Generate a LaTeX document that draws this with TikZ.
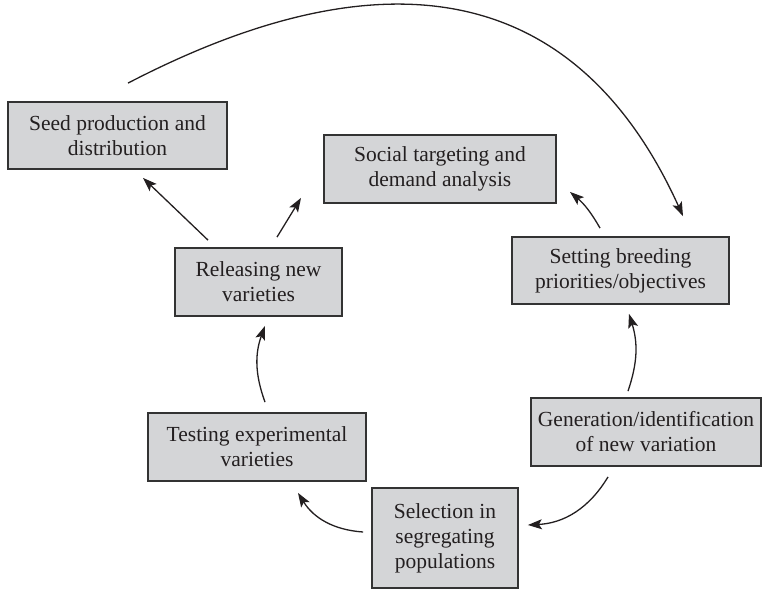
\documentclass[tikz,border=0pt]{standalone}
\usepackage{fontspec}
\setmainfont{Liberation Serif}
\usetikzlibrary{arrows.meta,calc}
\definecolor{boxfill}{HTML}{D4D5D7}
\definecolor{boxline}{HTML}{333333}
\definecolor{ink}{HTML}{231F20}
\begin{document}
\begin{tikzpicture}[x=1pt,y=-1pt,
  box/.style={draw=boxline, line width=1.8pt, fill=boxfill, align=center, inner sep=0pt,
    font=\fontsize{21.5}{25}\selectfont, text=ink},
  arr/.style={draw=ink, line width=1.3pt, -{Stealth[length=14pt,width=10pt,inset=3pt]}}]
\useasboundingbox (0,0) rectangle (763,590);
\node[box, minimum width=219pt, minimum height=67pt] (seed) at (117.5,135.5) {Seed production and\\distribution};
\node[box, minimum width=232pt, minimum height=68pt] (social) at (440,169) {Social targeting and\\demand analysis};
\node[box, minimum width=217pt, minimum height=67pt] (setting) at (620.5,270.5) {Setting breeding\\priorities/objectives};
\node[box, minimum width=167pt, minimum height=68pt] (rel) at (258.5,282) {Releasing new\\varieties};
\node[box, minimum width=230pt, minimum height=68pt] (gen) at (646,432) {Generation/identification\\of new variation};
\node[box, minimum width=218pt, minimum height=68pt] (test) at (257,447) {Testing experimental\\varieties};
\node[box, minimum width=146pt, minimum height=100pt] (sel) at (445,538) {Selection in\\segregating\\populations};
% big arc
\draw[arr] ($(seed.north)+(10.5,-18)$) .. controls (394,-55) and (580,-11) .. ($(setting.north)+(62.5,-20)$);
% releasing -> seed, social
\draw[arr] ($(rel.north)+(-50.5,-7)$) -- ($(seed.south)+(25.5,8)$);
\draw[arr] ($(rel.north)+(18.5,-10)$) -- ($(social.south)+(-139,-6)$);
% setting -> social
\draw[arr] ($(setting.north)+(-20.5,-8)$) to[bend right=10] ($(social.south)+(130,-12)$);
% generation -> setting
\draw[arr] ($(gen.north)+(-18,-6)$) to[bend right=18] ($(setting.south)+(8.5,9)$);
% generation -> selection
\draw[arr] ($(gen.south)+(-38,10)$) to[bend left=28] ($(sel.east)+(9,-13)$);
% selection -> testing
\draw[arr] ($(sel.west)+(-8,-6)$) to[bend left=27] ($(test.south)+(41,11)$);
% testing -> releasing
\draw[arr] ($(test.north)+(8,-10)$) to[bend left=20] ($(rel.south)+(6.5,9)$);
\end{tikzpicture}
\end{document}
